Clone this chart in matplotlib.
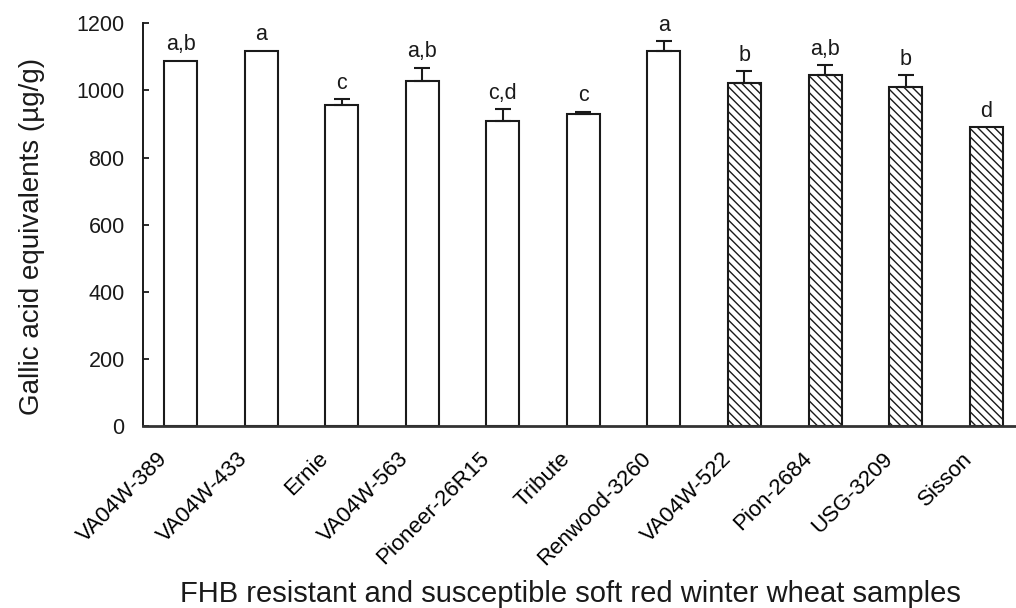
import matplotlib
matplotlib.use("Agg")
import matplotlib.pyplot as plt
import matplotlib.transforms as mtransforms
from matplotlib import font_manager

categories = ["VA04W-389", "VA04W-433", "Ernie", "VA04W-563", "Pioneer-26R15",
              "Tribute", "Renwood-3260", "VA04W-522", "Pion-2684", "USG-3209", "Sisson"]
values = [1088, 1118, 956, 1028, 909, 931, 1117, 1021, 1045, 1010, 890]
errors = [0, 0, 18, 40, 35, 5, 29, 36, 30, 35, 0]
letters = ["a,b", "a", "c", "a,b", "c,d", "c", "a", "b", "a,b", "b", "d"]
susceptible = [False] * 7 + [True] * 4
yticks = [0, 200, 400, 600, 800, 1000, 1200]

names = {f.name for f in font_manager.fontManager.ttflist}
base_font = "Liberation Sans" if "Liberation Sans" in names else "DejaVu Sans"
narrow_font = "Liberation Sans Narrow" if "Liberation Sans Narrow" in names else base_font

plt.rcParams['font.family'] = [base_font, 'DejaVu Sans']
plt.rcParams['hatch.color'] = '#a0a0a0'
plt.rcParams['hatch.linewidth'] = 1.0

fig = plt.figure(figsize=(10.16, 6.08), dpi=100)
ax = fig.add_axes([0.1405, 0.2993, 0.8595, 0.6624])

x = list(range(len(categories)))
for xi, v, s in zip(x, values, susceptible):
    ax.bar(xi, v, width=0.41, color='white', edgecolor='#1a1a1a', linewidth=1.5,
           hatch='\\\\\\\\' if s else None, zorder=2)

for xi, v, e in zip(x, values, errors):
    if e > 0:
        ax.errorbar(xi, v, yerr=[[0], [e]], fmt='none', ecolor='#1a1a1a',
                    elinewidth=1.5, capsize=5.5, capthick=1.5, zorder=3)

for xi, v, e, t in zip(x, values, errors, letters):
    ax.annotate(t, (xi, v + e), xytext=(0, 4), textcoords='offset points',
                ha='center', va='bottom', fontsize=15.5, color='#1a1a1a')

ax.set_xlim(-0.469, 10.37)
ax.set_ylim(0, 1200)
ax.set_yticks(yticks)
ax.set_yticklabels([str(t) for t in yticks])
ax.tick_params(axis='y', direction='in', length=4.5, width=1.3, pad=13,
               labelsize=15.5, colors='#1a1a1a')
ax.set_xticks(x)
ax.set_xticklabels(categories, rotation=45, ha='right', va='top', fontsize=16)
ax.tick_params(axis='x', length=0, pad=16)
offset = mtransforms.ScaledTranslation(-9 / 100, 0, fig.dpi_scale_trans)
for lab in ax.get_xticklabels():
    lab.set_transform(lab.get_transform() + offset)

ax.spines['top'].set_visible(False)
ax.spines['right'].set_visible(False)
ax.spines['left'].set_linewidth(1.4)
ax.spines['left'].set_color('#1a1a1a')
ax.spines['left'].set_bounds(0, 1200)
ax.spines['bottom'].set_linewidth(2.0)
ax.spines['bottom'].set_color('#333333')
ax.spines['bottom'].set_zorder(4)

ax.set_ylabel("Gallic acid equivalents (\u00b5g/g)", fontsize=20, color='#1a1a1a')
ax.yaxis.set_label_coords(-0.112, 0.47)

fig.text(570 / 1016, 1 - 602 / 608,
         "FHB resistant and susceptible soft red winter wheat samples",
         ha='center', va='baseline', fontsize=21, family=[narrow_font, 'DejaVu Sans'],
         color='#1a1a1a')

fig.savefig("out.png", dpi=100)
